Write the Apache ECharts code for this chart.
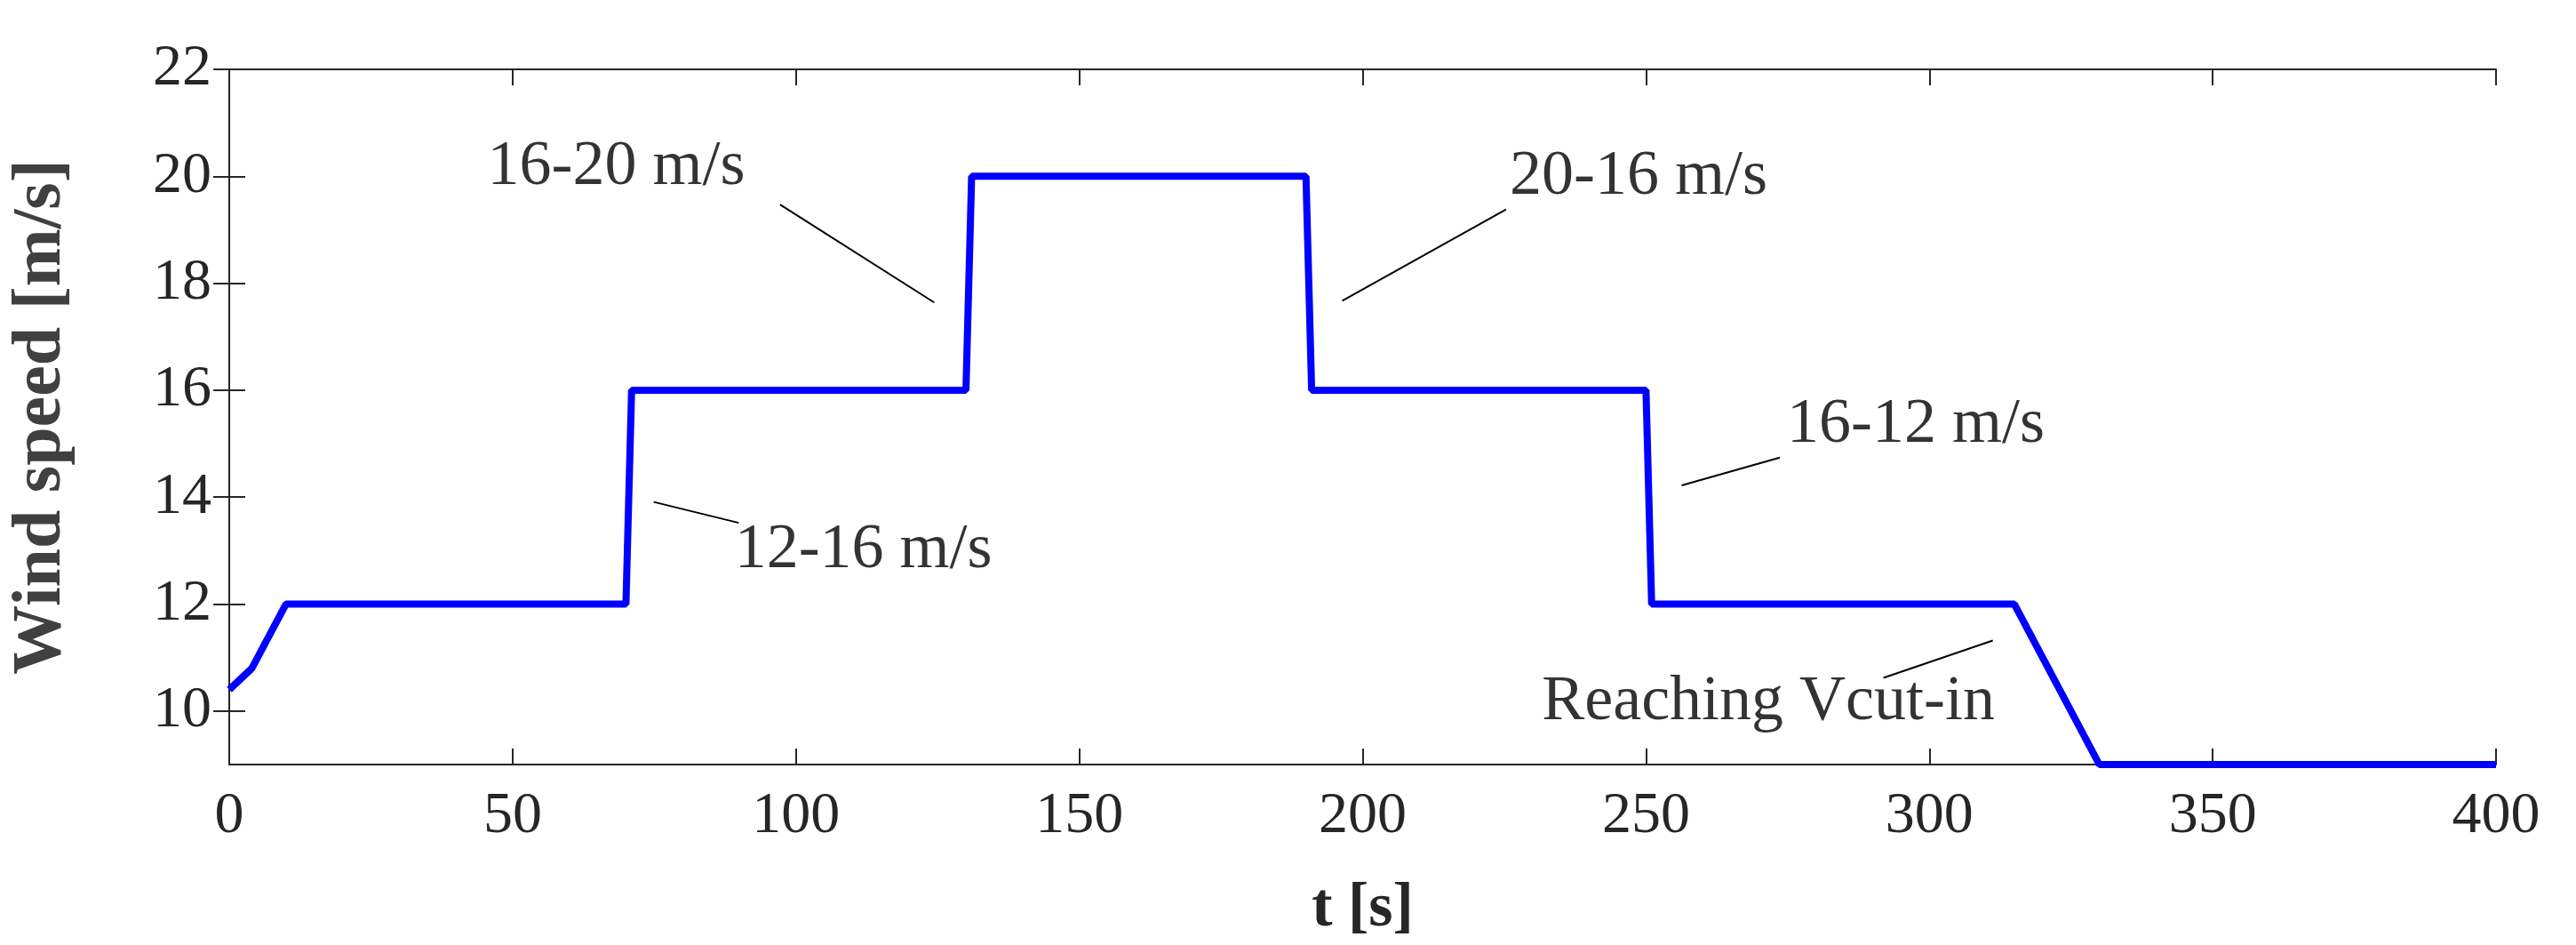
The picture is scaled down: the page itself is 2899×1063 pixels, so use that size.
<!DOCTYPE html>
<html><head><meta charset="utf-8">
<script src="https://cdn.jsdelivr.net/npm/echarts@6/dist/echarts.min.js"></script>
<style>html,body{margin:0;background:#fff}#c{width:2899px;height:1063px}</style>
</head><body><div id="c"></div>
<script>
const timeS = [0, 4, 10, 70, 71, 130, 131, 190, 191, 250, 251, 315, 330, 400];
const windSpeed = [10.4, 10.8, 12, 12, 16, 16, 20, 20, 16, 16, 12, 12, 9, 9];
const yTicks = [10, 12, 14, 16, 18, 20, 22];
const annTexts = ['16-20 m/s', '20-16 m/s', '12-16 m/s', '16-12 m/s', 'Reaching Vcut-in'];
const annTextPos = [[68.3, 20.17], [248.7, 19.99], [111.9, 13.0], [297.6, 15.35], [271.6, 10.16]];
const annLines = [
  [[97.2, 19.47], [124.4, 17.64]],
  [[225.3, 19.38], [196.4, 17.67]],
  [[74.9, 13.91], [89.9, 13.52]],
  [[273.6, 14.74], [256.3, 14.22]],
  [[311.2, 11.32], [291.9, 10.62]]
];
const F = 'Liberation Serif';
const chart = echarts.init(document.getElementById('c'));
const axLine = {show: true, lineStyle: {color: '#262626', width: 2}};
const tick = {inside: true, length: 18, lineStyle: {color: '#262626', width: 2}};
chart.setOption({
  animation: false,
  grid: {left: 251, right: 90, top: 78, bottom: 198},
  xAxis: [{
    type: 'value', min: 0, max: 400, interval: 50,
    name: 't [s]', nameLocation: 'middle', nameGap: 128,
    nameTextStyle: {fontFamily: F, fontSize: 70, fontWeight: 'bold', color: '#262626'},
    axisLine: axLine, axisTick: tick,
    axisLabel: {fontFamily: F, fontSize: 66, color: '#262626', margin: 26},
    splitLine: {show: false}
  }, {
    type: 'value', min: 0, max: 400, interval: 50, position: 'top',
    axisLine: axLine, axisTick: tick,
    axisLabel: {show: false}, splitLine: {show: false}
  }],
  yAxis: [{
    type: 'value', min: 9, max: 22,
    name: 'Wind speed [m/s]', nameLocation: 'middle', nameGap: 172,
    nameTextStyle: {fontFamily: F, fontSize: 78, fontWeight: 'bold', color: '#404040'},
    axisLine: axLine,
    axisTick: Object.assign({customValues: yTicks}, tick),
    axisLabel: {customValues: yTicks, fontFamily: F, fontSize: 66, color: '#262626', margin: 20},
    splitLine: {show: false}
  }, {
    type: 'value', min: 9, max: 22, position: 'right',
    axisLine: axLine,
    axisTick: Object.assign({customValues: yTicks}, tick),
    axisLabel: {show: false}, splitLine: {show: false}
  }],
  series: [{
    type: 'line', data: timeS.map((t, i) => [t, windSpeed[i]]),
    showSymbol: false, lineStyle: {color: '#0000ff', width: 8},
    markLine: {
      symbol: 'none', silent: true, label: {show: false},
      lineStyle: {color: '#000', width: 2, type: 'solid'},
      data: annLines.map(l => [{coord: l[0]}, {coord: l[1]}])
    }
  }, {
    type: 'scatter', symbolSize: 0,
    data: annTextPos.map((p, i) => ({value: p, name: annTexts[i]})),
    label: {show: true, position: 'inside', formatter: p => p.name,
      fontFamily: F, fontSize: 72, color: '#000'}
  }]
});
</script></body></html>
